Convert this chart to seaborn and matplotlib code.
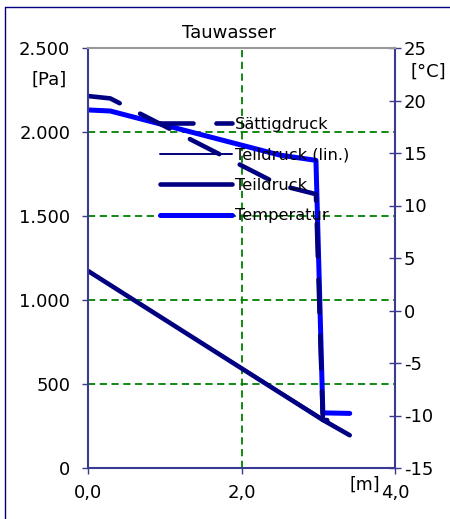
import matplotlib
matplotlib.use("Agg")
import matplotlib.pyplot as plt
from matplotlib.lines import Line2D
from matplotlib.ticker import FixedLocator, FuncFormatter
import seaborn as sns
import pandas as pd

# Wall cross-section positions [m]
position = [0.0, 0.29, 2.5, 2.97, 3.06, 3.41]
# Saturation vapour pressure [Pa]
saettigdruck = [2214, 2200, 1684, 1630, 286, 280]
# Linear partial vapour pressure [Pa]
teildruck_lin_x = [0.0, 3.41]
teildruck_lin = [1173, 195]
# Actual partial vapour pressure [Pa]
teildruck_x = [0.0, 3.06, 3.41]
teildruck = [1173, 286, 195]
# Temperature profile [°C]
temperatur = [19.1, 19.0, 14.8, 14.3, -9.75, -9.8]

# Axis ticks
p_ticks = [0, 500, 1000, 1500, 2000, 2500]
t_ticks = [-15, -10, -5, 0, 5, 10, 15, 20, 25]
x_ticks = [0.0, 2.0, 4.0]
grid_p = [500, 1000, 1500, 2000]

sns.set_style("white")
plt.rcParams["font.family"] = ["DejaVu Sans"]
plt.rcParams["text.color"] = "black"

navy = "#000080"
blue = "#0000ff"
axis_col = "#3a3a90"
green = "#008000"
fs = 13

fig = plt.figure(figsize=(4.5, 5.19), dpi=100)
ax = fig.add_axes([88 / 450, 1 - 468 / 519, 307 / 450, 420 / 519])
ax2 = ax.twinx()

# temperature axis sits underneath, pressure axis on top
ax.set_zorder(ax2.get_zorder() + 1)
ax.patch.set_visible(False)
ax2.patch.set_visible(True)
ax2.patch.set_facecolor("white")

ax.set_xlim(0, 4)
ax.set_ylim(0, 2500)
ax2.set_ylim(-15, 25)

# dashed green grid, drawn in pressure coordinates below the curves
for gp in grid_p:
    ax2.plot([0, 4], [gp, gp], transform=ax.transData, color=green,
             lw=1.3, ls=(0, (4, 2.5)), zorder=0.5)
ax2.plot([2.0, 2.0], [0, 2500], transform=ax.transData, color=green,
         lw=1.3, ls=(0, (4, 2.5)), zorder=0.5)

df_t = pd.DataFrame({"x": position, "T": temperatur})
sns.lineplot(data=df_t, x="x", y="T", ax=ax2, sort=False, estimator=None,
             color=blue, lw=3.6, solid_capstyle="round", legend=False)

df_s = pd.DataFrame({"x": position, "p": saettigdruck})
df_l = pd.DataFrame({"x": teildruck_lin_x, "p": teildruck_lin})
df_d = pd.DataFrame({"x": teildruck_x, "p": teildruck})
sns.lineplot(data=df_s, x="x", y="p", ax=ax, sort=False, estimator=None,
             color=navy, lw=3.3, linestyle=(0, (7.2, 5)),
             dash_capstyle="round", legend=False)
sns.lineplot(data=df_l, x="x", y="p", ax=ax, sort=False, estimator=None,
             color=navy, lw=1.4, legend=False)
sns.lineplot(data=df_d, x="x", y="p", ax=ax, sort=False, estimator=None,
             color=navy, lw=3.3, solid_capstyle="round", legend=False)

# ticks and labels
ax.yaxis.set_major_locator(FixedLocator(p_ticks))
ax.yaxis.set_major_formatter(FuncFormatter(lambda v, _: f"{int(v):,}".replace(",", ".")))
ax.xaxis.set_major_locator(FixedLocator(x_ticks))
ax.xaxis.set_major_formatter(FuncFormatter(lambda v, _: f"{v:.1f}".replace(".", ",")))
ax2.yaxis.set_major_locator(FixedLocator(t_ticks))
ax2.yaxis.set_major_formatter(FuncFormatter(lambda v, _: f"{int(v)}"))

ax.set_xlabel("")
ax.set_ylabel("")
ax2.set_ylabel("")

ax.tick_params(axis="y", direction="out", length=4.3, width=1, color=axis_col,
               pad=8.5, labelsize=fs, labelcolor="black", left=True)
ax.tick_params(axis="x", direction="out", length=4.3, width=1, color=axis_col,
               pad=7, labelsize=fs, labelcolor="black", bottom=True)
ax2.tick_params(axis="y", direction="inout", length=8.6, width=1, color=axis_col,
                pad=2, labelsize=fs, labelcolor="black", right=True)

for s in ["left", "bottom"]:
    ax.spines[s].set_color(axis_col)
    ax.spines[s].set_linewidth(1.5)
ax.spines["top"].set_color("#999999")
ax.spines["top"].set_linewidth(1.5)
ax.spines["right"].set_visible(False)
for s in ["left", "bottom", "top"]:
    ax2.spines[s].set_visible(False)
ax2.spines["right"].set_color(axis_col)
ax2.spines["right"].set_linewidth(1.5)

# legend without frame
handles = [
    Line2D([], [], color=navy, lw=3.3, ls=(0, (7.2, 5)), dash_capstyle="round"),
    Line2D([], [], color=navy, lw=1.4),
    Line2D([], [], color=navy, lw=3.3),
    Line2D([], [], color=blue, lw=3.6),
]
labels = ["Sättigdruck", "Teildruck (lin.)", "Teildruck", "Temperatur"]
ax.legend(handles, labels, loc="upper left",
          bbox_to_anchor=(160 / 450, 1 - 117 / 519),
          bbox_transform=fig.transFigure, frameon=False, fontsize=11.7,
          handlelength=4.4, handletextpad=0.2, labelspacing=0.95,
          borderpad=0, borderaxespad=0, labelcolor="black")

# title and unit labels
fig.text(229 / 450, 1 - 33 / 519, "Tauwasser", ha="center", va="center", fontsize=fs)
fig.text(67 / 450, 1 - 80 / 519, "[Pa]", ha="right", va="center", fontsize=fs)
fig.text(410 / 450, 1 - 72 / 519, "[°C]", ha="left", va="center", fontsize=fs)
fig.text(380 / 450, 1 - 485 / 519, "[m]", ha="right", va="center", fontsize=12.5)

# outer chart frame
fig.add_artist(Line2D([5 / 450, 5 / 450], [0, 1 - 7 / 519], transform=fig.transFigure,
                      color=navy, lw=1))
fig.add_artist(Line2D([5 / 450, 1], [1 - 7 / 519, 1 - 7 / 519], transform=fig.transFigure,
                      color=navy, lw=1))

fig.savefig("out.png", dpi=100)
